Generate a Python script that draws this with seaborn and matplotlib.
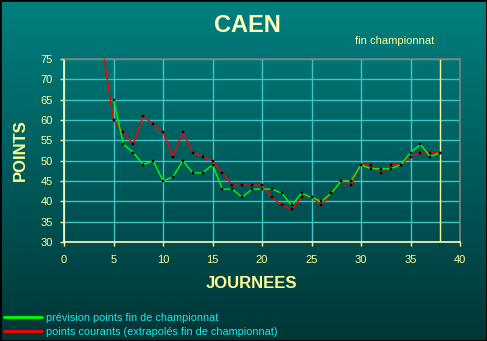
import numpy as np
import pandas as pd
import matplotlib
matplotlib.use("Agg")
import matplotlib.pyplot as plt
import seaborn as sns
from matplotlib.colors import LinearSegmentedColormap
from matplotlib.lines import Line2D
from matplotlib.patches import Rectangle

# ---- data ----
journees_courants = list(range(4, 39))
points_courants = [76, 60, 57, 54, 61, 59, 57, 51, 57, 52, 51, 50, 47, 44, 44, 44, 44,
                   41, 39, 38, 41, 41, 39, 42, 45, 44, 49, 49, 47, 49, 49, 51, 52, 52, 52]
journees_prevision = list(range(5, 39))
points_prevision = [65, 54, 52, 49, 50, 45, 46, 50, 47, 47, 49, 43, 43, 41, 43, 43, 43,
                    42, 39, 42, 41, 40, 42, 45, 45, 49, 48, 48, 48, 49, 52, 54, 51, 52]
x_ticks = [0, 5, 10, 15, 20, 25, 30, 35, 40]
y_ticks = [30, 35, 40, 45, 50, 55, 60, 65, 70, 75]
fin_journee = 38
title = "CAEN"
label_prevision = "prévision points fin de championnat"
label_courants = "points courants (extrapolés fin de championnat)"

df_c = pd.DataFrame({"journee": journees_courants, "points": points_courants})
df_p = pd.DataFrame({"journee": journees_prevision, "points": points_prevision})

sns.set_theme(style="white")
plt.rcParams["font.family"] = ["Liberation Sans", "DejaVu Sans"]

YEL = "#FFFF99"
PALE = "#FFFFC0"
GRID = "#3CC8C8"

fig = plt.figure(figsize=(4.87, 3.41), dpi=100)

# gradient background
bg = fig.add_axes([0, 0, 1, 1], zorder=-10)
grad = np.linspace(0, 1, 256).reshape(-1, 1)
cmap = LinearSegmentedColormap.from_list("bg", ["#008080", "#003636"])
bg.imshow(grad, aspect="auto", cmap=cmap, extent=[0, 1, 0, 1], origin="upper")
bg.set_axis_off()

ax = fig.add_axes([64 / 487, 1 - 242 / 341, (460 - 64) / 487, (242 - 59) / 341])
ax.set_facecolor("none")

sns.lineplot(data=df_c, x="journee", y="points", ax=ax, color="#FF0000", lw=1,
             marker="s", markersize=1.6, markerfacecolor="black",
             markeredgecolor="black", markeredgewidth=0.3, zorder=3)
sns.lineplot(data=df_p, x="journee", y="points", ax=ax, color="#00FF00", lw=1,
             marker="s", markersize=1.6, markerfacecolor="black",
             markeredgecolor="black", markeredgewidth=0.3, zorder=4)

ax.axvline(fin_journee, color=YEL, lw=1, zorder=2)

ax.set_xlim(0, 40)
ax.set_ylim(30, 75)
ax.set_xticks(x_ticks)
ax.set_yticks(y_ticks)
ax.grid(True, color=GRID, lw=1)
ax.set_axisbelow(True)
ax.set_xlabel("")
ax.set_ylabel("")
ax.tick_params(axis="both", colors=YEL, labelcolor=YEL, labelsize=8,
               length=3, width=1, direction="out")
ax.tick_params(axis="x", pad=6.5, bottom=True)
ax.tick_params(axis="y", pad=5, left=True)
for s in ["left", "bottom"]:
    ax.spines[s].set_color(PALE)
    ax.spines[s].set_linewidth(1.2)
for s in ["top", "right"]:
    ax.spines[s].set_color("#808080")
    ax.spines[s].set_linewidth(1.2)
if ax.get_legend():
    ax.get_legend().remove()

fig.text(247 / 487, 1 - 26 / 341, title, color=PALE, fontsize=17, fontweight="bold",
         ha="center", va="center")
fig.text(395 / 487, 1 - 41 / 341, "fin championnat", color=YEL, fontsize=8,
         ha="center", va="center")
fig.text(20 / 487, 1 - 150 / 341, "POINTS", color=YEL, fontsize=12, fontweight="bold",
         rotation=90, ha="center", va="center")
fig.text(251 / 487, 1 - 284 / 341, "JOURNEES", color=YEL, fontsize=12, fontweight="bold",
         ha="center", va="center")

handles = [Line2D([], [], color="#00FF00", lw=2), Line2D([], [], color="#FF0000", lw=2)]
leg = fig.legend(handles, [label_prevision, label_courants], loc="lower left",
                 bbox_to_anchor=(2 / 487, 2 / 341), frameon=False, fontsize=7.8,
                 handlelength=3.5, handletextpad=0.35, labelspacing=0.35,
                 borderaxespad=0, borderpad=0.2)
for t in leg.get_texts():
    t.set_color("#20E8E8")

fig.add_artist(Rectangle((0, 0), 1, 1, transform=fig.transFigure, fill=False,
                         edgecolor="black", lw=2, zorder=20))

fig.savefig("out.png", dpi=100)
